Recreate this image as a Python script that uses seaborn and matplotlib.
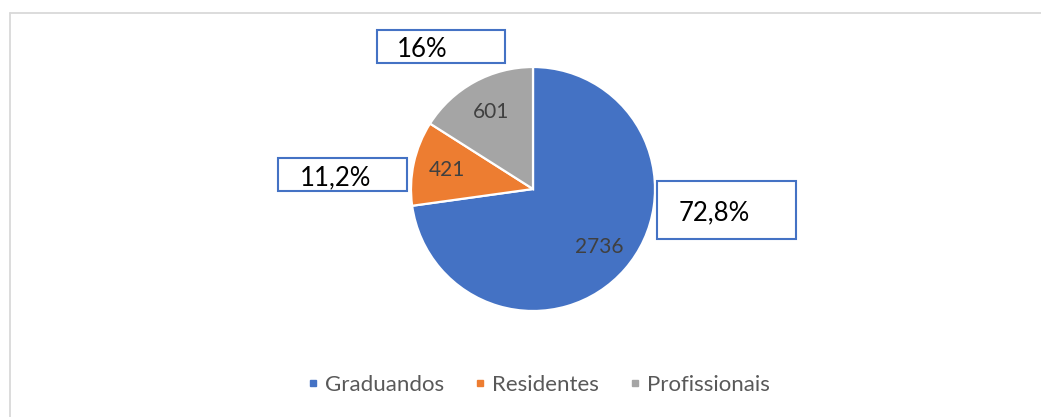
import matplotlib
matplotlib.use("Agg")
import matplotlib.pyplot as plt
import matplotlib.patches as mpatches
from matplotlib.lines import Line2D
import seaborn as sns

# ---- data ----
categories = ["Graduandos", "Residentes", "Profissionais"]
counts = [2736, 421, 601]
pct_labels = ["72,8%", "11,2%", "16%"]
colors = ["#4472C4", "#ED7D31", "#A5A5A5"]

# ---- layout (pixel positions of the percentage call-out boxes: x0, y0, x1, y1,
#      and text centre-x / baseline-y) ----
box_layout = [(657, 181, 796, 239), (278, 158, 407, 191), (377, 30, 505, 63)]
text_layout = [(714.5, 220), (335.5, 185), (422.5, 57)]

sns.set_theme(style="white")
plt.rcParams['font.family'] = ['Lato', 'DejaVu Sans']

W, H = 1041, 417
fig = plt.figure(figsize=(W / 100, H / 100), dpi=100)
fig.patch.set_facecolor("white")


def fx(px):
    return px / W


def fy(py):
    return 1 - py / H


# outer chart border (left and top visible)
fig.add_artist(Line2D([fx(9.5), fx(9.5)], [fy(12.5), 0], transform=fig.transFigure,
                      color="#D9D9D9", linewidth=1.3))
fig.add_artist(Line2D([fx(9.5), 1], [fy(12.5), fy(12.5)], transform=fig.transFigure,
                      color="#D9D9D9", linewidth=1.3))

cx, cy, r = 533, 189, 122
ax = fig.add_axes([fx(cx - r), fy(cy + r), 2 * r / W, 2 * r / H])
total = sum(counts)
wedges, texts, autotexts = ax.pie(
    counts, colors=colors, startangle=90, counterclock=False,
    autopct=lambda p: f"{round(p * total / 100)}", pctdistance=0.72,
    wedgeprops=dict(edgecolor="white", linewidth=1.6),
    textprops=dict(color="#404040", fontsize=15))
ax.set_xlim(-1, 1)
ax.set_ylim(-1, 1)
ax.set_aspect("auto")
ax.axis("off")

# percentage call-outs
for (x0, y0, x1, y1), (tx, ty), lab in zip(box_layout, text_layout, pct_labels):
    rect = mpatches.Rectangle((fx(x0), fy(y1)), fx(x1) - fx(x0), fy(y0) - fy(y1),
                              transform=fig.transFigure, facecolor="white",
                              edgecolor="#4472C4", linewidth=1.5)
    fig.add_artist(rect)
    fig.text(fx(tx), fy(ty), lab, ha="center", va="baseline",
             fontsize=18.5, color="black")

# legend
handles = [Line2D([], [], marker="s", linestyle="none", markersize=5, color=c) for c in colors]
fig.legend(handles, categories, loc="center", bbox_to_anchor=(fx(539), fy(385)), ncol=3,
           frameon=False, fontsize=16, labelcolor="#595959", handlelength=0.4,
           handletextpad=0.36, columnspacing=1.4)

fig.savefig("out.png", dpi=100, facecolor="white")
